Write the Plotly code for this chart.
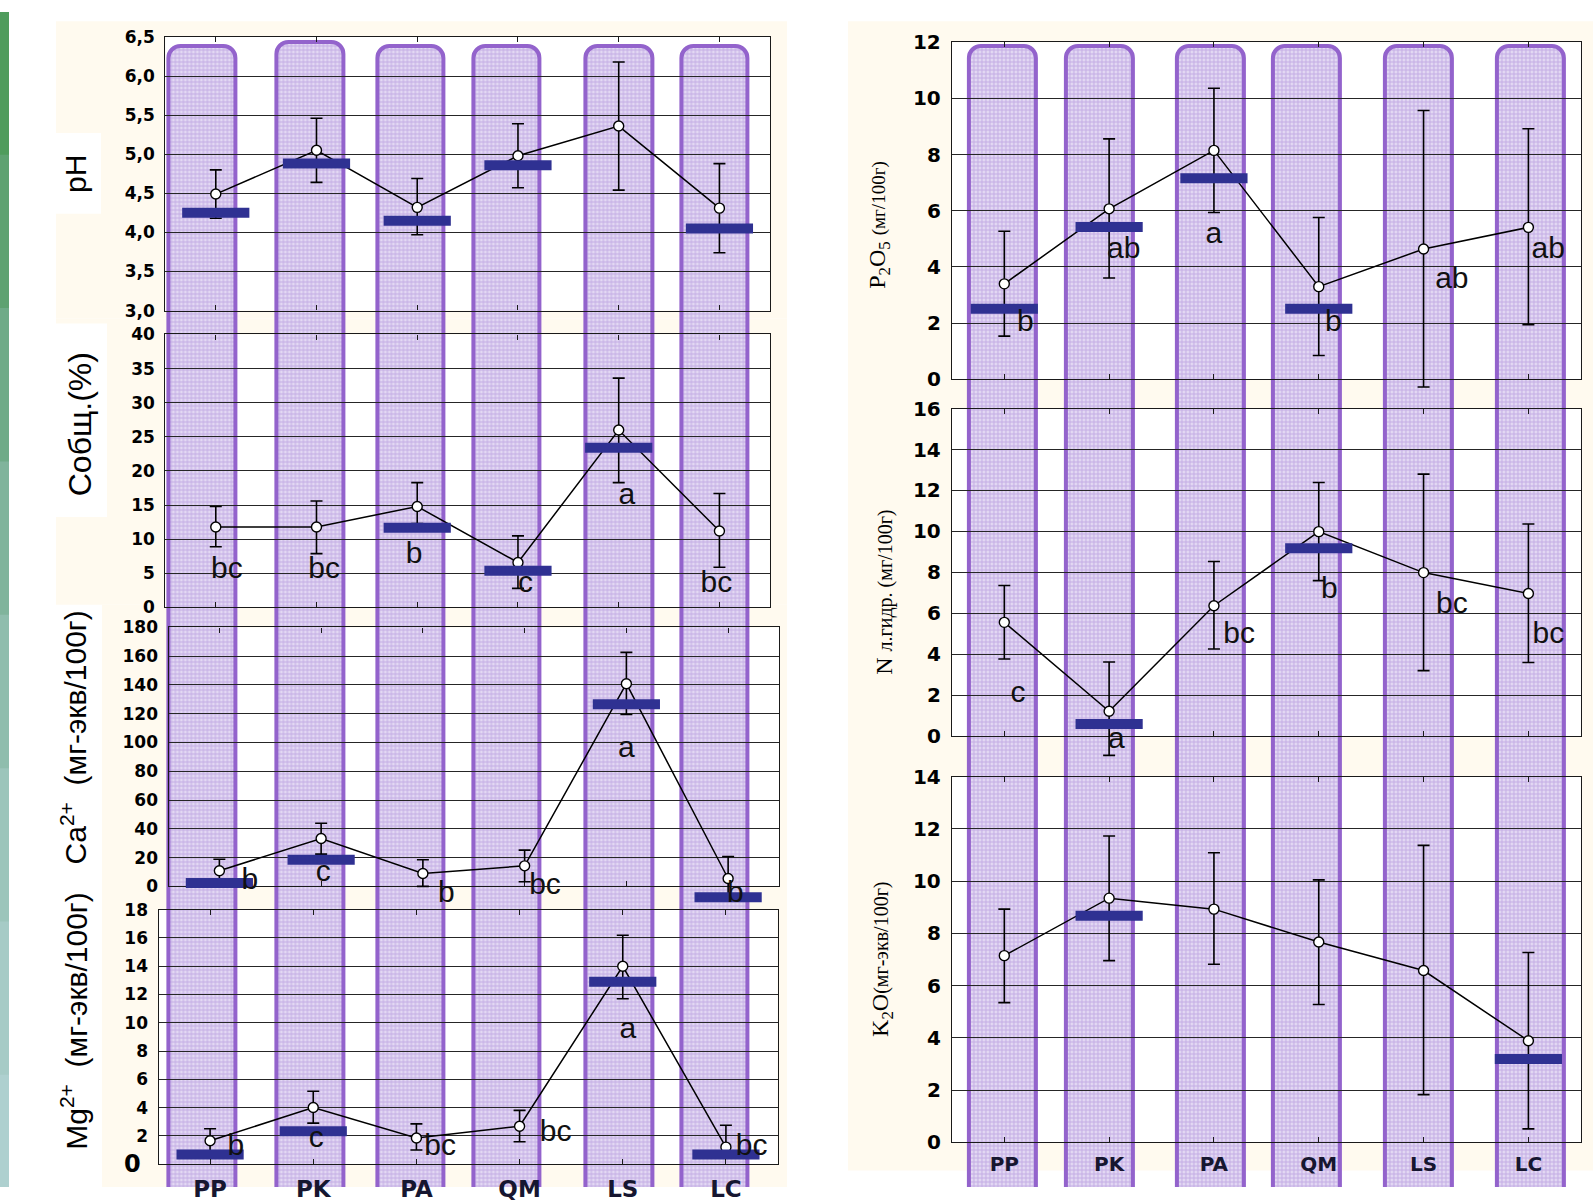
import plotly.graph_objects as go

W, H = 1593, 1202

cats = ['PP', 'PK', 'PA', 'QM', 'LS', 'LC']

# ---- data (means, lower / upper limits of error bars, reference marks, group letters)
ph_mean = [4.49, 5.05, 4.32, 4.98, 5.36, 4.31]
ph_lo = [4.18, 4.64, 3.97, 4.57, 4.54, 3.74]
ph_hi = [4.80, 5.46, 4.69, 5.39, 6.18, 4.88]
ph_ref = [4.25, 4.88, 4.15, 4.86, None, 4.05]

c_mean = [11.8, 11.8, 14.8, 6.6, 26.0, 11.2]
c_lo = [8.9, 7.9, 12.3, 2.8, 18.3, 5.9]
c_hi = [14.8, 15.6, 18.3, 10.5, 33.6, 16.7]
c_ref = [None, None, 11.7, 5.4, 23.4, None]
c_letters = ['bc', 'bc', 'b', 'c', 'a', 'bc']

ca_mean = [10.9, 33.3, 9.0, 14.3, 140.9, 5.5]
ca_lo = [3.9, 22.4, 0.0, 3.2, 119.5, -6.0]
ca_hi = [18.9, 43.9, 18.5, 25.2, 162.7, 20.8]
ca_ref = [2.3, 18.5, None, None, 126.6, -7.6]
ca_letters = ['b', 'c', 'b', 'bc', 'a', 'b']

mg_mean = [1.65, 4.0, 1.85, 2.68, 14.0, 1.2]
mg_lo = [0.9, 2.9, 1.0, 1.58, 11.7, 0.5]
mg_hi = [2.5, 5.15, 2.85, 3.8, 16.2, 2.75]
mg_ref = [0.68, 2.33, None, None, 12.9, 0.68]
mg_letters = ['b', 'c', 'bc', 'bc', 'a', 'bc']

p_mean = [3.40, 6.07, 8.15, 3.30, 4.64, 5.41]
p_lo = [1.54, 3.61, 5.94, 0.85, -0.27, 1.95]
p_hi = [5.27, 8.56, 10.36, 5.76, 9.57, 8.92]
p_ref = [2.51, 5.42, 7.16, 2.51, None, None]
p_letters = ['b', 'ab', 'a', 'b', 'ab', 'ab']

n_mean = [5.56, 1.22, 6.37, 9.99, 7.99, 6.97]
n_lo = [3.77, -0.94, 4.26, 7.6, 3.2, 3.6]
n_hi = [7.36, 3.62, 8.53, 12.39, 12.8, 10.36]
n_ref = [None, 0.6, None, 9.18, None, None]
n_letters = ['c', 'a', 'bc', 'b', 'bc', 'bc']

k_mean = [7.15, 9.35, 8.93, 7.67, 6.58, 3.89]
k_lo = [5.35, 6.96, 6.82, 5.28, 1.83, 0.52]
k_hi = [8.93, 11.73, 11.09, 10.05, 11.37, 7.27]
k_ref = [None, 8.68, None, None, None, 3.19]

# ---- label placement (style, not data)
c_let_dx = [0.11, 0.075, -0.03, 0.075, 0.08, -0.03]
c_let_y = [5.36, 5.36, 7.55, 3.3, 16.2, 3.3]
ca_let_dx = [0.30, 0.02, 0.23, 0.20, 0.0, 0.07]
ca_let_y = [3.2, 9.2, -5.3, 0.0, 95.2, -5.3]
mg_let_dx = [0.25, 0.03, 0.23, 0.35, 0.05, 0.25]
mg_let_y = [1.15, 1.74, 1.15, 2.16, 9.46, 1.15]
p_let_dx = [0.20, 0.14, 0.0, 0.14, 0.27, 0.19]
p_let_y = [1.98, 4.58, 5.11, 1.98, 3.51, 4.58]
n_let_dx = [0.13, 0.07, 0.24, 0.10, 0.27, 0.19]
n_let_y = [2.03, -0.19, 4.9, 7.1, 6.37, 4.9]

pillar_shift_left = [-0.137, -0.067, -0.070, -0.113, 0.0, -0.049]
pillar_shift_right = [-0.014, -0.096, -0.035, -0.117, -0.046, 0.021]
pillar_top_left = [33, 29, 33, 33, 33, 33]
pillar_top_right = [33, 33, 33, 33, 33, 33]

# vertical placement correction measured for the photographing page
V_OFF, V_SCALE = 10.7, 0.980


def fy(v):
    return (v - V_OFF) / V_SCALE


def px_x(v):
    return v / W


def px_y(v):
    return 1 - fy(v) / H


fig = go.Figure()

CREAM = '#fffaef'
BLUE = '#2f3192'
PURPLE = '#9363cc'

# ---- background decoration
shapes = []


def rect(x0, y0, x1, y1, color):
    shapes.append(dict(type='rect', xref='paper', yref='paper', layer='below',
                       x0=px_x(x0), x1=px_x(x1), y0=max(px_y(y1), 0), y1=min(px_y(y0), 1),
                       fillcolor=color, line=dict(width=0)))


rect(56, 20, 787, 318, CREAM)
rect(56, 318, 787, 605, CREAM)
rect(102, 605, 787, 1230, CREAM)
rect(848, 20, 1593, 1172, CREAM)
rect(55, 132, 101, 213, 'white')
rect(56, 323, 107, 517, 'white')
# left stripe
stripe = ['#4f9c5c', '#5ea271', '#6fab88', '#80b49c', '#8fbdad', '#9cc5bb', '#a6cbc6', '#aed0cf']
seg = 1230 / len(stripe)
for i, col in enumerate(stripe):
    rect(0, i * seg, 9, (i + 1) * seg + 1, col)

# ---- panel definitions (pixel frames)
panels = [
    dict(mean=ph_mean, lo=ph_lo, hi=ph_hi, ref=ph_ref, letters=None, dx=None, ly=None, ext=0,
         yr=[3, 6.5], dtick=0.5, fmt='.1f', xpx=(165.4, 769.8), ypx=(35.7, 310), side='L', showx=False),
    dict(mean=c_mean, lo=c_lo, hi=c_hi, ref=c_ref, letters=c_letters, dx=c_let_dx, ly=c_let_y, ext=0,
         yr=[0, 40], dtick=5, fmt='d', xpx=(165.4, 769.8), ypx=(334, 607.7), side='L', showx=False),
    dict(mean=ca_mean, lo=ca_lo, hi=ca_hi, ref=ca_ref, letters=ca_letters, dx=ca_let_dx, ly=ca_let_y, ext=25,
         yr=[0, 180], dtick=20, fmt='d', xpx=(168.5, 779), ypx=(627.7, 887.3), side='L', showx=False),
    dict(mean=mg_mean, lo=mg_lo, hi=mg_hi, ref=mg_ref, letters=mg_letters, dx=mg_let_dx, ly=mg_let_y, ext=0,
         yr=[0, 18], dtick=2, fmt='d', xpx=(158.5, 777.5), ypx=(910.7, 1165.7), side='L', showx=True),
    dict(mean=p_mean, lo=p_lo, hi=p_hi, ref=p_ref, letters=p_letters, dx=p_let_dx, ly=p_let_y, ext=0.8,
         yr=[0, 12], dtick=2, fmt='d', xpx=(951.9, 1580.8), ypx=(41, 379), side='R', showx=False),
    dict(mean=n_mean, lo=n_lo, hi=n_hi, ref=n_ref, letters=n_letters, dx=n_let_dx, ly=n_let_y, ext=1.6,
         yr=[0, 16], dtick=2, fmt='d', xpx=(951.9, 1580.8), ypx=(408.3, 736.7), side='R', showx=False),
    dict(mean=k_mean, lo=k_lo, hi=k_hi, ref=k_ref, letters=None, dx=None, ly=None, ext=0,
         yr=[0, 14], dtick=2, fmt='d', xpx=(951.9, 1580.8), ypx=(777.3, 1144), side='R', showx=True),
]

# ---- pillars (first two subplots -> drawn beneath the data subplots)
for k, (shift, tops, xd) in enumerate([(pillar_shift_left, pillar_top_left, (165.4, 769.8)),
                                       (pillar_shift_right, pillar_top_right, (951.9, 1580.8))]):
    ax = '' if k == 0 else '2'
    xs = [i + s for i, s in enumerate(shift)]
    hts = [px_y(t) for t in tops]
    fig.add_trace(go.Bar(
        x=xs, y=hts, base=[-0.01] * 6, width=0.66 if k == 0 else 0.64,
        xaxis='x' + ax, yaxis='y' + ax,
        marker=dict(color='#d8caef',
                    pattern=dict(shape='+', fgcolor='#a181d4', bgcolor='#e3d8f3', size=4, solidity=0.45),
                    line=dict(color=PURPLE, width=4)),
        hoverinfo='skip'))
    fig.update_layout(**{
        'xaxis' + ax: dict(domain=[px_x(xd[0]), px_x(xd[1])], range=[-0.5, 5.5], visible=False,
                           anchor='y' + ax, fixedrange=True),
        'yaxis' + ax: dict(domain=[0, 1], range=[0, 1], visible=False, anchor='x' + ax, fixedrange=True),
    })

fig.update_layout(barcornerradius=12)

idx = list(range(6))
for n, p in enumerate(panels):
    a = str(n + 3)
    xa, ya = 'x' + a, 'y' + a
    left = p['side'] == 'L'
    y0px, y1px = p['ypx']
    # white plot area
    shapes.append(dict(type='rect', xref='paper', yref='paper', layer='below',
                       x0=px_x(p['xpx'][0]), x1=px_x(p['xpx'][1]),
                       y0=px_y(y1px), y1=px_y(y0px),
                       fillcolor='white', line=dict(width=0)))
    # axis that carries the marks: same scale, domain extended below the frame
    if p['ext'] > 0:
        t = str(n + 10)
        scale = (y1px - y0px) / (p['yr'][1] - p['yr'][0])
        fig.update_layout(**{
            'xaxis' + t: dict(domain=[px_x(p['xpx'][0]), px_x(p['xpx'][1])], range=[-0.5, 5.5],
                              visible=False, anchor='y' + t, fixedrange=True),
            'yaxis' + t: dict(domain=[px_y(y1px + p['ext'] * scale), px_y(y0px)],
                              range=[p['yr'][0] - p['ext'], p['yr'][1]], visible=False,
                              anchor='x' + t, fixedrange=True),
        })
        txa, tya = 'x' + t, 'y' + t
        # keeps the framed subplot alive
        fig.add_trace(go.Scatter(x=[0], y=[p['yr'][0]], mode='markers', marker=dict(opacity=0),
                                 xaxis=xa, yaxis=ya, hoverinfo='skip'))
    else:
        txa, tya = xa, ya
    up = [h - m for h, m in zip(p['hi'], p['mean'])]
    dn = [m - l for m, l in zip(p['mean'], p['lo'])]
    fig.add_trace(go.Scatter(
        x=idx, y=p['mean'], mode='lines+markers', xaxis=txa, yaxis=tya, cliponaxis=False,
        line=dict(color='black', width=1.5),
        marker=dict(symbol='circle', size=10, color='white', line=dict(color='black', width=1.4)),
        error_y=dict(type='data', symmetric=False, array=up, arrayminus=dn,
                     color='black', thickness=1.6, width=6),
        hoverinfo='skip'))
    rx = [i for i, v in zip(idx, p['ref']) if v is not None]
    ry = [v for v in p['ref'] if v is not None]
    fig.add_trace(go.Scatter(
        x=rx, y=ry, mode='markers', xaxis=txa, yaxis=tya, cliponaxis=False,
        marker=dict(symbol='line-ew', size=48, color=BLUE, line=dict(color=BLUE, width=10)),
        hoverinfo='skip'))
    if p['letters']:
        fig.add_trace(go.Scatter(
            x=[i + d for i, d in zip(idx, p['dx'])], y=p['ly'], mode='text', text=p['letters'],
            xaxis=txa, yaxis=tya, cliponaxis=False,
            textfont=dict(family='Liberation Sans, Arial, sans-serif', size=30, color='#111111'),
            hoverinfo='skip'))
    tickfont = dict(family='DejaVu Sans, sans-serif', size=17 if left else 20, color='black', weight=700)
    yax = dict(domain=[px_y(y1px), px_y(y0px)], range=p['yr'], dtick=p['dtick'],
               tick0=p['yr'][0], anchor=xa, showgrid=True, gridcolor='#262626', gridwidth=1,
               showline=True, mirror=True, linecolor='#1a1a1a', linewidth=1.2, zeroline=False,
               ticks='outside', ticklen=6, tickcolor='rgba(0,0,0,0)', tickfont=tickfont,
               tickformat=p['fmt'], fixedrange=True)
    if n == 3:
        yax.update(tickvals=list(range(2, 19, 2)))
    xax = dict(domain=[px_x(p['xpx'][0]), px_x(p['xpx'][1])], range=[-0.5, 5.5], anchor=ya,
               tickvals=idx, ticktext=cats, showticklabels=p['showx'], showgrid=False, zeroline=False,
               showline=True, mirror='allticks', linecolor='#1a1a1a', linewidth=1.2,
               ticks='inside', ticklen=5, tickcolor='#1a1a1a',
               ticklabelstandoff=4 if left else 3,
               tickfont=dict(family='DejaVu Sans, sans-serif', size=23 if left else 20,
                             color='#161630', weight=700),
               fixedrange=True)
    fig.update_layout(**{'xaxis' + a: xax, 'yaxis' + a: yax})

# ---- axis titles
annotations = []


def title(x, y, text, size, family):
    annotations.append(dict(xref='paper', yref='paper', x=px_x(x), y=px_y(y), text=text,
                            textangle=-90, showarrow=False, xanchor='center', yanchor='middle',
                            font=dict(family=family, size=size, color='black')))


SANS = 'Liberation Sans, Arial, sans-serif'
SERIF = 'Liberation Serif, Times New Roman, serif'
title(76, 173, 'pH', 30, SANS)
title(80, 424, 'Собщ.(%)', 32, SANS)
title(74, 738, 'Ca<sup>2+</sup>  (мг-экв/100г)', 30, SANS)
title(74, 1022, 'Mg<sup>2+</sup>  (мг-экв/100г)', 30, SANS)
title(879, 224, "P<sub>2</sub>O<sub>5</sub> <span style='font-size:19px'>(мг/100г)</span>", 24, SERIF)
title(884, 593, "N <span style='font-size:20px'>л.гидр. (мг/100г)</span>", 24, SERIF)
title(882, 961, "K<sub>2</sub>O<span style='font-size:20px'>(мг-экв/100г)</span>", 24, SERIF)
# larger zero label of the Mg axis
annotations.append(dict(xref='x6 domain', yref='y6 domain', x=-0.025, y=0, text='0', showarrow=False,
                        xanchor='right', yanchor='middle',
                        font=dict(family='DejaVu Sans, sans-serif', size=24, color='black', weight=700)))

fig.update_layout(width=W, height=H, margin=dict(l=0, r=0, t=0, b=0),
                  paper_bgcolor='white', plot_bgcolor='rgba(0,0,0,0)', showlegend=False,
                  separators=', ', shapes=shapes, annotations=annotations, bargap=0)

fig.write_html('out.html', config={'displayModeBar': False, 'responsive': False},
               post_script="var d=document.getElementById('{plot_id}');"
                           "d.style.position='fixed';d.style.left='0px';d.style.top='0px';"
                           "document.documentElement.style.margin='0px';"
                           "document.documentElement.style.padding='0px';"
                           "document.documentElement.style.overflow='hidden';"
                           "document.body.style.margin='0px';document.body.style.padding='0px';"
                           "document.body.style.overflow='hidden';window.scrollTo(0,0);")
